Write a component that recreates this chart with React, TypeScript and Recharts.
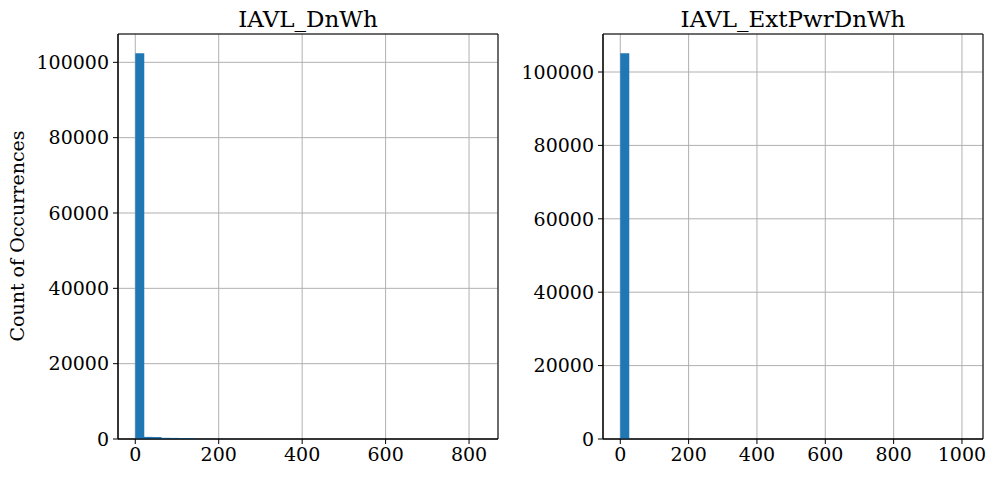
import React from 'react';
import { BarChart, Bar, XAxis, YAxis, CartesianGrid, ReferenceArea } from 'recharts';

const dnWhTitle = 'IAVL_DnWh';
const extPwrTitle = 'IAVL_ExtPwrDnWh';
const countLabel = 'Count of Occurrences';

// value range (min, max) of each column, split into 40 equal bins
const dnWhRange = [0, 828];
const extPwrRange = [0, 1011];

// counts per bin (tail bins are too small to see)
const dnWhCounts = [
    102400, 560, 520, 310, 290, 270, 250, 60, 45, 38,
    30, 26, 22, 18, 15, 12, 10, 9, 8, 7,
    6, 5, 5, 4, 4, 3, 3, 3, 2, 2,
    2, 2, 1, 1, 1, 1, 1, 1, 0, 1,
];
const extPwrCounts = [
    105100, 40, 22, 15, 11, 9, 7, 6, 5, 4,
    4, 3, 3, 3, 2, 2, 2, 2, 1, 1,
    1, 1, 1, 1, 1, 0, 1, 0, 1, 0,
    0, 1, 0, 0, 1, 0, 0, 0, 0, 1,
];

const dnWhTicks = [0, 200, 400, 600, 800];
const extPwrTicks = [0, 200, 400, 600, 800, 1000];
const countTicks = [0, 20000, 40000, 60000, 80000, 100000];

const FONT = '"DejaVu Serif", serif';
const tickStyle = { fontSize: 19, fill: '#000', fontFamily: FONT };

function toBins(counts: number[], range: number[]) {
    const w = (range[1] - range[0]) / counts.length;
    return counts.map((c, i) => ({ x: range[0] + w * (i + 0.5), count: c }));
}

type HistProps = {
    counts: number[];
    range: number[];
    xTicks: number[];
    width: number;
    margin: { top: number; right: number; bottom: number; left: number };
};

function Hist({ counts, range, xTicks, width, margin }: HistProps) {
    const data = toBins(counts, range);
    const pad = (range[1] - range[0]) * 0.05;
    const xDomain = [range[0] - pad, range[1] + pad];
    const yDomain = [0, Math.max(...counts) * 1.05];
    return (
        <BarChart width={width} height={477} data={data} margin={margin} barCategoryGap={0} barGap={0}>
            <CartesianGrid stroke="#b0b0b0" strokeWidth={1} />
            <XAxis
                dataKey="x"
                type="number"
                domain={xDomain}
                ticks={xTicks}
                interval={0}
                allowDataOverflow
                height={30}
                tickSize={5}
                tickMargin={4}
                tick={tickStyle}
                tickLine={{ stroke: '#000' }}
                axisLine={{ stroke: '#000' }}
            />
            <YAxis
                type="number"
                domain={yDomain}
                ticks={countTicks}
                interval={0}
                allowDataOverflow
                width={60}
                tickSize={5}
                tickMargin={4}
                tick={tickStyle}
                tickLine={{ stroke: '#000' }}
                axisLine={{ stroke: '#000' }}
            />
            <Bar dataKey="count" fill="#1f77b4" isAnimationActive={false} />
            {/* axes frame */}
            <ReferenceArea
                x1={xDomain[0]}
                x2={xDomain[1]}
                y1={yDomain[0]}
                y2={yDomain[1]}
                fill="none"
                fillOpacity={0}
                stroke="#000"
                strokeWidth={1}
                ifOverflow="visible"
            />
        </BarChart>
    );
}

export default function App() {
    return (
        <div style={{ position: 'absolute', left: 0, top: 0, width: 995, height: 477, background: '#fff' }}>
            <div style={{ position: 'absolute', left: 0, top: 0 }}>
                <Hist
                    counts={dnWhCounts}
                    range={dnWhRange}
                    xTicks={dnWhTicks}
                    width={500}
                    margin={{ top: 34, right: 2, bottom: 8, left: 58 }}
                />
            </div>
            <div style={{ position: 'absolute', left: 500, top: 0 }}>
                <Hist
                    counts={extPwrCounts}
                    range={extPwrRange}
                    xTicks={extPwrTicks}
                    width={495}
                    margin={{ top: 34, right: 12, bottom: 8, left: 43 }}
                />
            </div>
            <svg width={995} height={477} style={{ position: 'absolute', left: 0, top: 0, pointerEvents: 'none' }}>
                <text x={308} y={27} textAnchor="middle" fontFamily={FONT} fontSize={23} fill="#000">
                    {dnWhTitle}
                </text>
                <text x={793} y={27} textAnchor="middle" fontFamily={FONT} fontSize={23} fill="#000">
                    {extPwrTitle}
                </text>
                <text
                    transform="translate(24,236) rotate(-90)"
                    textAnchor="middle"
                    fontFamily={FONT}
                    fontSize={19}
                    fill="#000"
                >
                    {countLabel}
                </text>
            </svg>
        </div>
    );
}
